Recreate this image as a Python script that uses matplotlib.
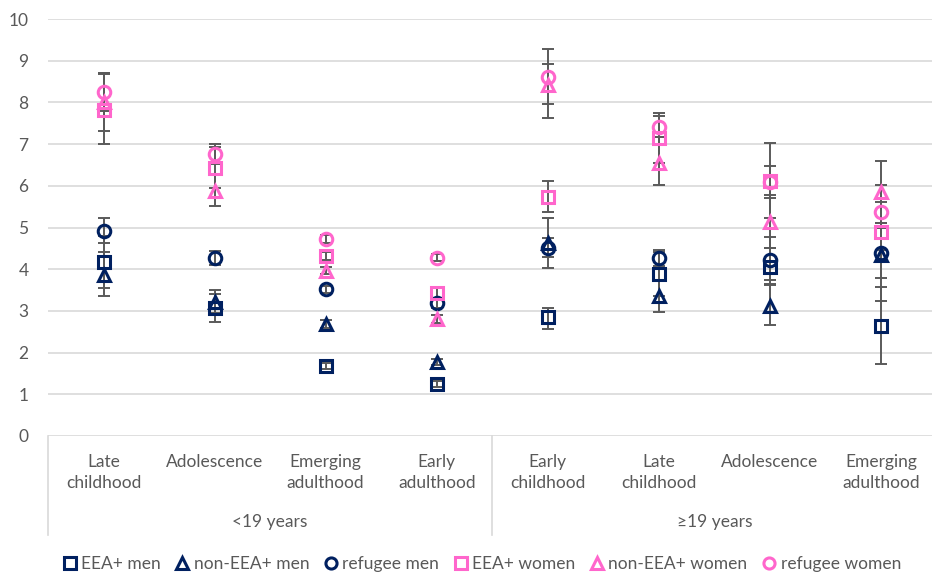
import numpy as np
import matplotlib.pyplot as plt
from matplotlib.lines import Line2D

plt.rcParams['font.family'] = ['Lato', 'DejaVu Sans']

categories = ["Late\nchildhood", "Adolescence", "Emerging\nadulthood", "Early\nadulthood",
              "Early\nchildhood", "Late\nchildhood", "Adolescence", "Emerging\nadulthood"]
groups = ["<19 years", "\u226519 years"]
group_spans = [(0, 3), (4, 7)]

# point estimate, lower and upper confidence limits per category
eea_men = [4.17, 3.07, 1.68, 1.25, 2.85, 3.88, 4.05, 2.64]
eea_men_lo = [3.55, 2.74, 1.60, 1.18, 2.57, 3.35, 3.64, 1.73]
eea_men_hi = [4.79, 3.40, 1.76, 1.32, 3.07, 4.42, 4.50, 3.57]

non_eea_men = [3.86, 3.22, 2.69, 1.77, 4.62, 3.36, 3.12, 4.35]
non_eea_men_lo = [3.36, 2.95, 2.60, 1.70, 4.03, 2.98, 2.65, 3.24]
non_eea_men_hi = [4.41, 3.50, 2.78, 1.85, 5.23, 3.75, 3.62, 5.10]

refugee_men = [4.92, 4.27, 3.52, 3.20, 4.52, 4.27, 4.22, 4.39]
refugee_men_lo = [4.63, 4.10, 3.44, 3.08, 4.29, 4.08, 3.75, 3.79]
refugee_men_hi = [5.22, 4.43, 3.60, 3.32, 4.75, 4.46, 4.78, 4.98]

eea_women = [7.82, 6.43, 4.32, 3.43, 5.74, 7.15, 6.12, 4.90]
eea_women_lo = [7.00, 5.95, 4.22, 3.30, 5.36, 6.55, 5.23, 4.20]
eea_women_hi = [8.70, 6.93, 4.42, 3.55, 6.12, 7.75, 7.03, 5.62]

non_eea_women = [8.00, 5.88, 3.96, 2.80, 8.42, 6.55, 5.13, 5.84]
non_eea_women_lo = [7.31, 5.52, 3.88, 2.72, 7.63, 6.02, 4.50, 5.10]
non_eea_women_hi = [8.70, 6.25, 4.05, 2.90, 8.91, 7.18, 5.78, 6.60]

refugee_women = [8.25, 6.76, 4.72, 4.28, 8.62, 7.42, 6.09, 5.38]
refugee_women_lo = [7.80, 6.52, 4.62, 4.20, 7.96, 7.18, 5.70, 4.46]
refugee_women_hi = [8.68, 7.00, 4.82, 4.36, 9.27, 7.67, 6.47, 6.02]

navy = "#002060"
pink = "#FF66CC"
grey_text = "#595959"

series = [
    ("EEA+ men", eea_men, eea_men_lo, eea_men_hi, navy, "s"),
    ("non-EEA+ men", non_eea_men, non_eea_men_lo, non_eea_men_hi, navy, "^"),
    ("refugee men", refugee_men, refugee_men_lo, refugee_men_hi, navy, "o"),
    ("EEA+ women", eea_women, eea_women_lo, eea_women_hi, pink, "s"),
    ("non-EEA+ women", non_eea_women, non_eea_women_lo, non_eea_women_hi, pink, "^"),
    ("refugee women", refugee_women, refugee_women_lo, refugee_women_hi, pink, "o"),
]

fig = plt.figure(figsize=(9.32, 5.73), dpi=100)
ax = fig.add_axes([0.0515, 0.2391, 0.9485, 0.7277])

x = np.arange(len(categories))
handles = []
for label, vals, lo, hi, color, marker in series:
    vals = np.array(vals)
    yerr = [vals - np.array(lo), np.array(hi) - vals]
    ax.errorbar(x, vals, yerr=yerr, fmt="none", ecolor="#5a5a5a", elinewidth=1.4,
                capsize=4.5, capthick=1.4, zorder=2)
    ax.plot(x, vals, linestyle="none", marker=marker, markersize=9,
            markerfacecolor="none", markeredgecolor=color, markeredgewidth=2.2, zorder=3)
    handles.append(Line2D([], [], linestyle="none", marker=marker, markersize=8,
                          markerfacecolor="none", markeredgecolor=color,
                          markeredgewidth=2.2, label=label))

ax.set_ylim(0, 10)
ax.set_xlim(-0.5, 7.46)
ax.set_yticks(range(0, 11))
ax.yaxis.grid(True, color="#d9d9d9", linewidth=1.2)
ax.set_axisbelow(True)
for side in ["top", "right", "left", "bottom"]:
    ax.spines[side].set_visible(False)
ax.tick_params(axis="y", length=0, pad=14, labelsize=12.5, labelcolor=grey_text)

ax.set_xticks(x)
ax.set_xticklabels(categories, fontsize=12.5, color=grey_text, linespacing=1.4)
ax.tick_params(axis="x", length=0, pad=13)

# group labels and separators below the category axis
for name, (a, b) in zip(groups, group_spans):
    ax.text((a + b) / 2, -0.207, name, transform=ax.get_xaxis_transform(),
            ha="center", va="center", fontsize=12.5, color=grey_text)
for xs in [-0.5, 3.5, 7.5]:
    ax.plot([xs, xs], [0, -0.237], transform=ax.get_xaxis_transform(),
            color="#d9d9d9", linewidth=1.2, clip_on=False)

fig.legend(handles=handles, loc="center", bbox_to_anchor=(0.517, 0.016), ncol=6,
           frameon=False, fontsize=12.5, labelcolor=grey_text, handletextpad=0.25,
           columnspacing=0.85, handlelength=0.8)

fig.savefig("out.png", dpi=100)
